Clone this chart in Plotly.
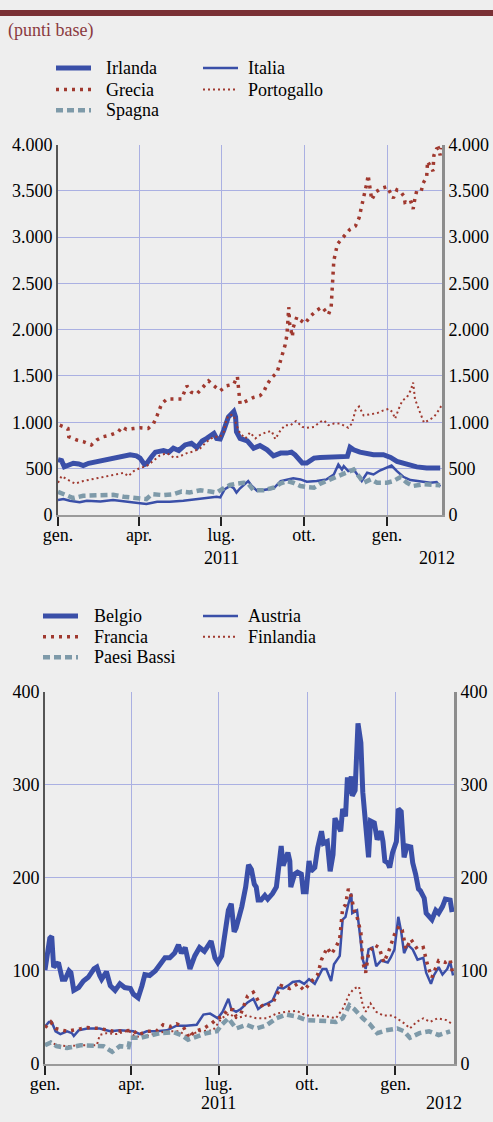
import pandas as pd
import plotly.graph_objects as go

START = pd.Timestamp("2011-01-01")
END_DAY = 426

# ---------------- Chart 1 data (day offset from 1 Jan 2011, basis points) ----------------
IRL_DAYS = [0,4,7,11,17,23,28,34,43,54,65,73,80,87,91,96,98,104,108,117,123,128,134,141,148,154,160,165,173,176,180,184,189,195,197,198,202,210,217,224,232,239,247,254,259,263,267,271,276,284,291,298,306,321,324,328,335,343,350,361,369,376,383,391,398,409,424]
IRL_VALS = [596,585,518,535,557,550,532,557,574,600,613,624,649,638,613,543,550,631,677,695,677,720,695,755,773,727,798,826,879,826,819,915,1057,1117,1057,897,826,798,720,748,702,638,667,667,677,649,613,560,560,613,620,620,631,631,730,702,677,667,649,649,620,578,560,532,518,507,507]

ITA_DAYS = [0,6,13,24,32,47,61,76,87,98,110,124,139,150,165,176,180,185,191,195,198,202,211,215,221,232,239,247,254,261,269,276,287,298,306,311,315,317,322,328,332,337,343,350,357,365,370,376,383,391,402,413,420,424]
ITA_VALS = [160,170,152,135,152,145,160,145,135,117,142,142,152,163,181,195,188,277,312,287,241,287,365,312,259,277,284,365,383,394,383,358,365,383,436,543,489,525,472,489,436,365,454,436,479,507,532,472,411,376,365,348,355,305]

GRC_DAYS = [2,11,12,21,28,37,43,50,58,67,71,76,84,91,100,106,110,115,121,128,137,143,148,154,160,167,173,180,187,195,199,201,202,210,217,224,228,232,237,243,247,250,252,254,255,256,257,260,261,265,269,274,280,287,293,298,300,303,304,305,306,308,310,313,319,324,330,334,336,339,341,343,344,346,347,348,353,359,365,369,372,376,380,384,385,391,394,396,398,403,405,409,410,413,416,417,420,422,424,425]
GRC_VALS = [968,933,844,808,791,755,808,844,862,897,950,922,933,940,933,986,1074,1199,1252,1252,1252,1394,1323,1305,1376,1447,1394,1340,1394,1411,1493,1269,1199,1234,1269,1287,1323,1411,1482,1535,1660,1748,1837,1943,2138,2245,2067,1925,2025,2138,2103,2067,2145,2209,2245,2174,2162,2240,2410,2588,2748,2836,2926,2960,3031,3085,3120,3208,3297,3421,3528,3599,3670,3563,3474,3403,3492,3528,3546,3474,3421,3510,3492,3439,3375,3397,3304,3421,3500,3500,3581,3652,3819,3766,3713,3883,3954,3961,3883,3965]

PRT_DAYS = [0,4,10,19,28,43,58,73,78,84,91,98,106,113,121,128,135,143,150,158,165,173,180,184,187,191,195,198,202,208,213,219,224,232,237,241,247,252,258,264,271,276,284,291,295,300,306,313,322,326,330,334,339,347,354,361,367,371,374,378,382,387,391,394,396,398,402,406,411,417,421,426]
PRT_VALS = [347,418,383,337,365,394,418,454,418,472,507,525,585,642,667,620,631,667,684,720,791,844,844,897,1039,1082,1074,968,879,826,890,826,862,897,904,819,915,968,968,1014,950,940,950,1004,1021,968,986,986,940,986,1128,1170,1074,1085,1099,1128,1145,1110,1039,1145,1234,1269,1340,1429,1252,1199,1092,996,1021,1057,1110,1188]

ESP_DAYS = [0,6,17,28,47,61,73,84,98,104,117,128,137,146,158,169,176,182,191,198,206,211,217,228,239,247,254,261,269,276,284,291,302,313,321,328,335,339,347,354,365,372,380,387,394,406,417,424]
ESP_VALS = [248,223,181,206,213,216,195,188,170,223,213,223,252,241,266,252,241,277,323,337,347,337,266,266,294,340,365,347,312,301,294,337,383,418,454,489,401,347,383,347,347,365,408,347,312,330,323,319]

# ---------------- Chart 2 data ----------------
BEL_DAYS = [0,2,5,7,9,12,14,18,21,25,27,30,35,40,45,51,54,57,59,64,68,73,78,83,89,92,97,101,104,109,115,120,125,130,135,139,142,146,151,156,161,166,170,173,177,180,184,187,191,194,196,197,199,205,209,210,212,215,218,220,222,225,229,232,237,241,244,246,248,250,253,255,256,260,263,267,269,272,275,277,281,284,288,290,294,297,300,302,305,308,310,313,315,317,319,320,323,325,326,329,331,334,337,339,343,346,350,352,354,357,359,362,366,368,371,374,377,381,383,386,389,391,395,397,400,403,407,410,414,417,422,424]
BEL_VALS = [101,114,135,137,104,107,109,91,91,100,98,79,82,89,93,102,104,95,91,99,84,79,86,82,81,75,71,84,96,95,100,107,114,114,119,128,119,125,102,116,125,121,128,132,114,109,116,134,165,172,158,142,146,169,190,204,214,209,193,190,176,176,181,177,183,190,218,234,213,220,227,218,190,204,206,204,185,185,218,207,211,232,250,237,239,207,225,264,257,250,274,266,308,290,309,288,294,352,366,345,292,257,222,261,259,241,250,239,218,216,211,227,239,274,271,222,234,233,216,204,188,186,178,162,158,155,165,162,169,177,176,163]

AUT_DAYS = [0,4,7,11,16,23,28,30,35,44,57,68,78,92,99,106,116,127,137,147,158,165,172,180,185,191,194,199,204,211,217,222,227,232,237,243,248,253,258,265,270,275,281,286,289,293,298,301,307,310,313,316,319,320,325,327,331,334,337,341,345,350,357,360,364,368,371,374,378,383,388,394,397,402,405,410,414,419,422,425]
AUT_VALS = [40,45,45,35,32,35,33,30,36,38,38,35,36,35,32,35,35,36,41,41,42,53,54,49,56,70,59,56,59,66,70,59,63,65,68,82,81,84,88,89,86,91,86,95,102,102,89,107,116,155,158,172,183,162,165,148,112,102,123,125,105,111,109,114,123,158,142,119,128,123,112,114,98,86,95,104,96,102,110,95]

FRA_DAYS = [0,6,11,23,44,57,71,92,97,106,116,123,130,137,144,150,156,165,173,180,185,191,196,199,204,211,217,222,227,232,237,246,255,263,270,277,284,288,291,294,298,303,307,310,313,316,319,322,325,329,331,334,337,343,348,353,358,364,369,372,376,381,388,394,399,403,410,417,422,425]
FRA_VALS = [39,45,38,35,39,38,35,36,31,35,35,42,40,43,40,28,35,38,43,49,51,59,58,51,54,73,77,68,61,63,65,84,81,86,79,88,96,112,118,125,118,125,135,167,171,188,180,165,158,141,109,98,119,128,125,109,121,139,148,144,123,134,123,125,104,93,111,109,112,95]

FIN_DAYS = [0,6,12,23,37,54,57,64,75,87,94,106,116,127,140,147,161,175,184,192,199,210,220,231,241,251,262,272,282,293,303,310,317,322,327,331,334,339,345,352,362,369,375,380,387,394,401,409,418,424]
FIN_VALS = [21,24,20,19,20,20,31,33,32,36,29,30,33,35,35,30,35,36,49,54,49,52,49,49,54,56,57,52,52,51,49,59,75,81,83,63,56,65,56,52,52,47,43,38,45,49,45,49,47,43]

NLD_DAYS = [0,6,12,23,37,51,61,70,78,87,89,99,109,120,134,142,149,158,168,179,184,191,199,210,220,230,241,251,262,272,282,293,303,310,317,322,331,338,346,355,367,374,380,390,400,410,422]
NLD_VALS = [20,23,19,17,20,20,19,13,19,18,28,28,30,33,34,31,26,29,33,35,42,49,38,42,38,41,49,53,51,47,47,46,45,49,63,59,49,43,33,36,38,35,28,33,35,31,35]

# ---------------- ticks / labels ----------------
Y1_TICKS = [0, 500, 1000, 1500, 2000, 2500, 3000, 3500, 4000]
Y2_TICKS = [0, 100, 200, 300, 400]
X_TICK_DATES = ["2011-01-01", "2011-04-01", "2011-07-01", "2011-10-01", "2012-01-01"]
X_TICK_TEXT = ["gen.", "apr.", "lug.", "ott.", "gen."]
YEAR_LABELS = ["2011", "2012"]
UNIT_LABEL = "(punti base)"

BLUE = "#3a4fa8"
RED = "#a0392f"
GREY = "#7e9aa9"
GRID = "#aab0e2"
BG = "#eeeeee"
FONT = "Liberation Serif"

# series styles: key -> (colour, width, dash)
STYLE = {
    "thick": (BLUE, 5, "solid"),
    "thin": (BLUE, 2.5, "solid"),
    "bigdot": (RED, 3.5, "3px,5px"),
    "smalldot": (RED, 2, "2px,3px"),
    "dash": (GREY, 4.5, "7px,4px"),
}


def to_dates(days):
    return [START + pd.Timedelta(days=int(d)) for d in days]


W, H = 493, 1122
ML, MR = 45, 39
GW = W - ML - MR


def px_x(p):
    return (p - ML) / GW


def px_y(p):
    return 1 - p / H


fig = go.Figure()


def add(days, vals, name, style, xa, ya):
    c, w, d = STYLE[style]
    fig.add_trace(go.Scatter(
        x=to_dates(days), y=vals, name=name, mode="lines",
        line=dict(color=c, width=w, dash=d),
        xaxis=xa, yaxis=ya, showlegend=False, hoverinfo="skip"))


SERIES1 = [(IRL_DAYS, IRL_VALS, "Irlanda", "thick"),
           (ITA_DAYS, ITA_VALS, "Italia", "thin"),
           (GRC_DAYS, GRC_VALS, "Grecia", "bigdot"),
           (PRT_DAYS, PRT_VALS, "Portogallo", "smalldot"),
           (ESP_DAYS, ESP_VALS, "Spagna", "dash")]
SERIES2 = [(BEL_DAYS, BEL_VALS, "Belgio", "thick"),
           (AUT_DAYS, AUT_VALS, "Austria", "thin"),
           (FRA_DAYS, FRA_VALS, "Francia", "bigdot"),
           (FIN_DAYS, FIN_VALS, "Finlandia", "smalldot"),
           (NLD_DAYS, NLD_VALS, "Paesi Bassi", "dash")]

for d, v, n, s in SERIES1:
    add(d, v, n, s, "x", "y")
for d, v, n, s in SERIES2:
    add(d, v, n, s, "x2", "y2")

# invisible traces to anchor the right-hand value axes
fig.add_trace(go.Scatter(x=to_dates(IRL_DAYS), y=IRL_VALS, xaxis="x", yaxis="y3",
                         mode="lines", line=dict(width=0), opacity=0,
                         showlegend=False, hoverinfo="skip"))
fig.add_trace(go.Scatter(x=to_dates(BEL_DAYS), y=BEL_VALS, xaxis="x2", yaxis="y4",
                         mode="lines", line=dict(width=0), opacity=0,
                         showlegend=False, hoverinfo="skip"))

xrange = [START, START + pd.Timedelta(days=END_DAY)]
tickfont = dict(family=FONT, size=18, color="black")

xcommon = dict(type="date", range=xrange, tickvals=X_TICK_DATES, ticktext=X_TICK_TEXT,
               ticks="outside", ticklen=9, tickwidth=2, tickcolor="#222",
               ticklabelstandoff=-6,
               showline=True, linecolor="#9a9a9a", linewidth=2,
               showgrid=True, gridcolor=GRID, gridwidth=1, tickfont=tickfont,
               fixedrange=True)
yleft = dict(showline=True, linecolor="#555", linewidth=2, showgrid=True,
             gridcolor=GRID, gridwidth=1, zeroline=True, zerolinecolor="white",
             zerolinewidth=2, ticks="", tickfont=tickfont, tickformat=",d",
             fixedrange=True)
yright = dict(showline=True, linecolor="#8c8c8c", linewidth=3, showgrid=False,
              zeroline=False, ticks="", tickfont=tickfont, tickformat=",d",
              side="right", fixedrange=True)

fig.update_layout(
    width=W, height=H,
    margin=dict(l=ML, r=MR, t=0, b=0),
    paper_bgcolor=BG, plot_bgcolor=BG,
    separators=",.",
    font=dict(family=FONT, size=18, color="black"),
    showlegend=False,
    xaxis=dict(domain=[px_x(58), px_x(442)], anchor="y", **xcommon),
    yaxis=dict(domain=[px_y(514), px_y(137)], anchor="x", range=[0, 4000],
               tickvals=Y1_TICKS, **yleft),
    yaxis3=dict(overlaying="y", anchor="x", range=[0, 4000], tickvals=Y1_TICKS, **yright),
    xaxis2=dict(domain=[px_x(45), px_x(454)], anchor="y2", **xcommon),
    yaxis2=dict(domain=[px_y(1073), px_y(694)], anchor="x2", range=[0, 400],
                tickvals=Y2_TICKS, **yleft),
    yaxis4=dict(overlaying="y2", anchor="x2", range=[0, 400], tickvals=Y2_TICKS, **yright),
)

# top band and unit label
fig.add_shape(type="rect", xref="paper", yref="paper",
              x0=px_x(0), x1=px_x(W), y0=px_y(6), y1=1,
              fillcolor="#7a3035", line=dict(width=0), layer="above")
fig.add_annotation(text=UNIT_LABEL, xref="paper", yref="paper", x=px_x(6), y=px_y(21),
                   xanchor="left", yanchor="middle", showarrow=False,
                   font=dict(family=FONT, size=18, color="#8b3a3e"))


# legends (two columns, three rows), positioned in pixels
def legend(series, rows_y, cols):
    for i, (_, _, name, style) in enumerate(series):
        col = cols[0] if i % 2 == 0 else cols[1]
        y = rows_y[i // 2]
        c, w, d = STYLE[style]
        fig.add_shape(type="line", xref="paper", yref="paper",
                      x0=px_x(col[0]), x1=px_x(col[0] + 35), y0=px_y(y), y1=px_y(y),
                      line=dict(color=c, width=w, dash=d))
        fig.add_annotation(text=name, xref="paper", yref="paper",
                           x=px_x(col[1]), y=px_y(y), xanchor="left", yanchor="middle",
                           showarrow=False, font=dict(family=FONT, size=18, color="black"))


legend(SERIES1, [59, 81, 102], [(56, 104), (203, 246)])
legend(SERIES2, [617, 638, 659], [(43, 92), (203, 246)])

# year labels under the date axes
fig.add_annotation(text=YEAR_LABELS[0], xref="x", yref="paper", x="2011-07-01", y=px_y(558),
                   xanchor="center", yanchor="middle", showarrow=False, font=tickfont)
fig.add_annotation(text=YEAR_LABELS[1], xref="x", yref="paper", x="2012-02-26", y=px_y(558),
                   xanchor="center", yanchor="middle", showarrow=False, font=tickfont)
fig.add_annotation(text=YEAR_LABELS[0], xref="x2", yref="paper", x="2011-07-01", y=px_y(1113),
                   xanchor="center", yanchor="middle", showarrow=False, font=tickfont)
fig.add_annotation(text=YEAR_LABELS[1], xref="x2", yref="paper", x="2012-02-21", y=px_y(1113),
                   xanchor="center", yanchor="middle", showarrow=False, font=tickfont)

PAGE_JS = (
    "document.documentElement.style.margin='0';"
    "document.body.style.margin='0';document.body.style.padding='0';"
    "document.body.style.overflow='hidden';"
    "var gd=document.getElementById('{plot_id}');"
    "gd.style.position='absolute';gd.style.top='0px';gd.style.left='0px';"
)

fig.write_html("out.html", config={"displayModeBar": False}, post_script=PAGE_JS)
